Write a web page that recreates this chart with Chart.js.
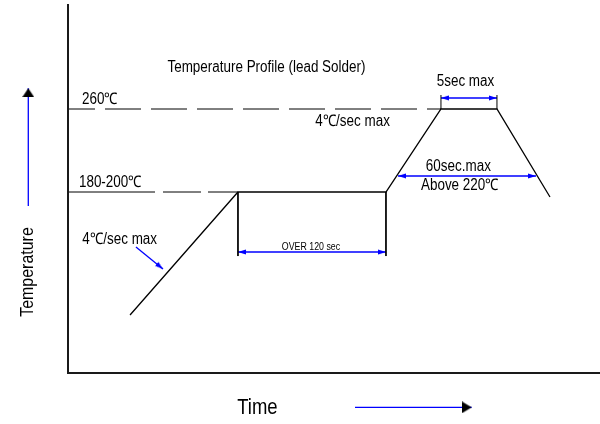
<!DOCTYPE html>
<html><head><meta charset="utf-8">
<script src="https://cdn.jsdelivr.net/npm/chart.js@4.4.0/dist/chart.umd.min.js"></script>
<style>html,body{margin:0;padding:0;background:#fff}</style>
</head><body>
<canvas id="c" width="600" height="424"></canvas>
<script>
// Schematic reflow profile, in time (s) and temperature (°C) units
const profileTime = [50.3, 137.8, 257.8, 302.4, 347.8, 390.8];
const profileTemp = [86.3, 190, 190, 260, 260, 185.8];
const peakLineTime = [0, 302.4];
const peakLineTemp = [260, 260];
const soakLineTime = [0, 137.8];
const soakLineTemp = [190, 190];
const soakExtTime = [137.8, 257.8];
const soakExtTemp = [190, 136.0];
const peakExtTime = [302.4, 347.8];
const peakExtTemp = [260, 271.8];
const soakSpanTime = [137.8, 257.8];
const soakSpanTemp = 139.4;
const peakSpanTime = [302.4, 347.8];
const peakSpanTemp = 269.3;
const liquidusSpanTime = [267.6, 379.5];
const liquidusSpanTemp = 203.5;
const rampArrowTime = [55.1, 77.0];
const rampArrowTemp = [143.6, 125.1];
const axisTimeRange = [0, 431.35];
const axisTempRange = [37.35, 348.55];
const viewTime = [-55.14, 431.35];
const viewTemp = [-5.66, 351.93];
const tempArrowTime = -32.2;
const tempArrowTemp = [178.2, 277.5];
const timeArrowTime = [232.7, 327.3];
const timeArrowTemp = 8.4;

const labelTexts = ['Temperature Profile (lead Solder)', '260℃', '4℃/sec max', '180-200℃', '4℃/sec max',
  'OVER 120 sec', '5sec max', '60sec.max', 'Above 220℃', 'Temperature', 'Time'];
const labelTime = [160.9, 25.9, 230.7, 34.3, 41.9, 197.0, 322.3, 316.5, 317.7, -32.4, 153.6];
const labelTemp = [294.6, 267.6, 249.0, 197.6, 149.5, 143.6, 282.8, 211.1, 195.1, 122.5, 7.8];
const labelSize = [16, 16, 16, 16, 16, 10.5, 16, 16, 16, 19, 22];
const labelRot = [0, 0, 0, 0, 0, 0, 0, 0, 0, -90, 0];
const CONDENSE = 0.84;

const BLUE = '#0000ff';
function xy(ts, Ts) { return ts.map((t, i) => ({x: t, y: Array.isArray(Ts) ? Ts[i] : Ts})); }
function head(len, halfW, color) {
  const c = document.createElement('canvas');
  c.width = Math.ceil(len * 2); c.height = Math.ceil(halfW * 2);
  const g = c.getContext('2d');
  g.fillStyle = color;
  g.beginPath();
  g.moveTo(c.width / 2, c.height / 2);
  g.lineTo(c.width / 2 - len, c.height / 2 - halfW);
  g.lineTo(c.width / 2 - len, c.height / 2 + halfW);
  g.closePath(); g.fill();
  return c;
}
const blueHead = head(8, 2.6, BLUE);
const blackHeadUp = head(9, 6, '#000');
const blackHeadRight = head(10, 6, '#000');

function plain(data, color, width, extra) {
  return Object.assign({data, borderColor: color, borderWidth: width, pointRadius: 0, fill: false, tension: 0}, extra || {});
}
function arrow(data, heads, rots, color, headImg) {
  return plain(data, color, 1.3, {pointStyle: headImg, pointRadius: heads, rotation: rots});
}

const datasets = [
  plain([{x: axisTimeRange[0], y: axisTempRange[1]}, {x: axisTimeRange[0], y: axisTempRange[0]}, {x: axisTimeRange[1], y: axisTempRange[0]}], '#1a1a1a', 2),
  plain(xy(peakLineTime, peakLineTemp), '#000', 1, {borderDash: [36, 10], borderDashOffset: 9}),
  plain(xy(soakLineTime, soakLineTemp), '#000', 1, {borderDash: [87, 8, 38, 7, 40, 8]}),
  plain(xy(profileTime, profileTemp), '#000', 1.3),
  plain(xy([soakExtTime[0], soakExtTime[0]], soakExtTemp), '#000', 1),
  plain(xy([soakExtTime[1], soakExtTime[1]], soakExtTemp), '#000', 1),
  plain(xy([peakExtTime[0], peakExtTime[0]], peakExtTemp), '#000', 1),
  plain(xy([peakExtTime[1], peakExtTime[1]], peakExtTemp), '#000', 1),
  arrow(xy(soakSpanTime, soakSpanTemp), [5, 5], [180, 0], BLUE, blueHead),
  arrow(xy(peakSpanTime, peakSpanTemp), [5, 5], [180, 0], BLUE, blueHead),
  arrow(xy(liquidusSpanTime, liquidusSpanTemp), [5, 5], [180, 0], BLUE, blueHead),
  arrow(xy(rampArrowTime, rampArrowTemp), [0, 5], [0, 39.2], BLUE, blueHead),
  arrow(xy([tempArrowTime, tempArrowTime], tempArrowTemp), [0, 5], [0, -90], BLUE, blackHeadUp),
  arrow(xy(timeArrowTime, timeArrowTemp), [0, 5], [0, 0], BLUE, blackHeadRight)
];

const labelPlugin = {
  id: 'labels',
  afterDatasetsDraw(chart) {
    const {ctx} = chart; const sx = chart.scales.x, sy = chart.scales.y;
    labelTexts.forEach((txt, i) => {
      ctx.save();
      ctx.translate(sx.getPixelForValue(labelTime[i]), sy.getPixelForValue(labelTemp[i]));
      if (labelRot[i]) ctx.rotate(labelRot[i] * Math.PI / 180);
      ctx.scale(CONDENSE, 1);
      ctx.font = labelSize[i] + 'px "Liberation Sans", Arial, sans-serif';
      ctx.fillStyle = '#000'; ctx.textAlign = 'center'; ctx.textBaseline = 'middle';
      ctx.fillText(txt, 0, 0);
      ctx.restore();
    });
  }
};

new Chart(document.getElementById('c'), {
  type: 'line',
  data: {datasets},
  options: {
    responsive: false, animation: false, events: [],
    layout: {padding: 0, autoPadding: false},
    plugins: {legend: {display: false}, tooltip: {enabled: false}},
    scales: {
      x: {type: 'linear', display: false, bounds: 'data', min: viewTime[0], max: viewTime[1]},
      y: {type: 'linear', display: false, bounds: 'data', min: viewTemp[0], max: viewTemp[1]}
    }
  },
  plugins: [labelPlugin]
});
</script>
</body></html>
